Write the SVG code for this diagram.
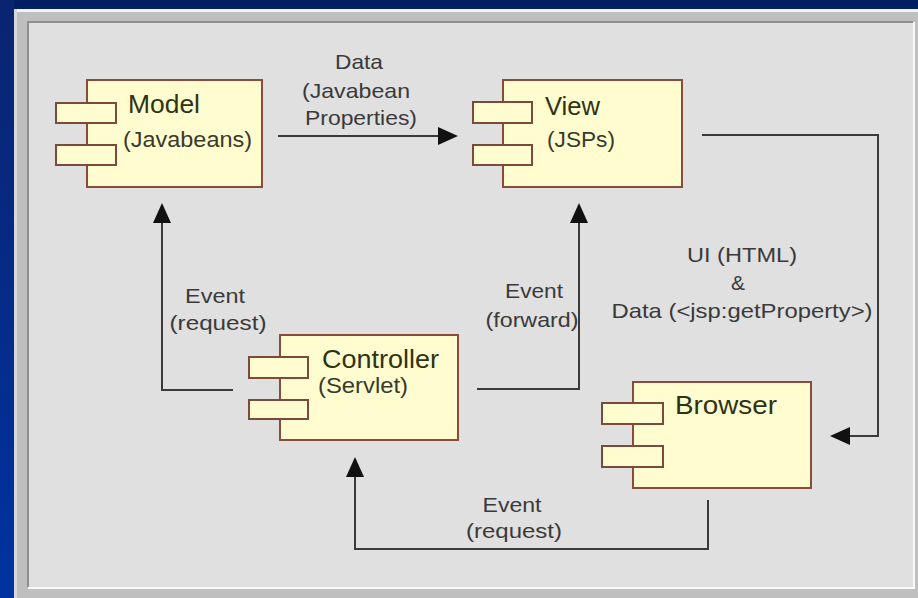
<svg xmlns="http://www.w3.org/2000/svg" width="918" height="598" viewBox="0 0 918 598">
<style>
.box{fill:#fffdd0;stroke:#8a4a3c;stroke-width:2}
.port{fill:#fffdd0;stroke:#7a4a3c;stroke-width:2}
.title{font-family:"Liberation Sans",Arial,sans-serif;fill:#2e3312}
.sub{font-family:"Liberation Sans",Arial,sans-serif;font-size:22px;fill:#3a3a2a}
.lbl{font-family:"Liberation Sans",Arial,sans-serif;font-size:21px;fill:#3a3a3a;text-anchor:middle}
.wire{fill:none;stroke:#3a3a3a;stroke-width:2}
</style>
<defs>
<linearGradient id="blue" x1="0" y1="0" x2="0" y2="1">
<stop offset="0" stop-color="#0a2470"/>
<stop offset="1" stop-color="#0033a0"/>
</linearGradient>
<marker id="arr" viewBox="0 0 20 18" refX="16" refY="9" markerWidth="20" markerHeight="18" markerUnits="userSpaceOnUse" orient="auto">
<path d="M0,0 L20,9 L0,18 Z" fill="#111"/>
</marker>
</defs>

<!-- frame -->
<rect x="0" y="0" width="918" height="598" fill="#c0c0c0"/>
<rect x="0" y="0" width="918" height="9" fill="#001e62"/>
<rect x="0" y="0" width="14" height="598" fill="url(#blue)"/>
<rect x="14" y="9" width="904" height="589" fill="#bfbfbf"/>
<line x1="14" y1="10.5" x2="918" y2="10.5" stroke="#f2f2f2" stroke-width="3"/>
<line x1="15.5" y1="9" x2="15.5" y2="598" stroke="#d8d8d8" stroke-width="3"/>
<rect x="28" y="22" width="885" height="565" fill="#e0e0e0"/>
<path d="M28,587 V22 H913" fill="none" stroke="#8e8e8e" stroke-width="2"/>
<path d="M28,588 H914 V22" fill="none" stroke="#fafafa" stroke-width="2"/>

<!-- connectors -->
<g id="connectors">
<path class="wire" d="M278,136 H454" marker-end="url(#arr)"/>
<path class="wire" d="M233,390 H162 V207" marker-end="url(#arr)"/>
<path class="wire" d="M477,389 H579 V207" marker-end="url(#arr)"/>
<path class="wire" d="M702,135 H878 V436 H834" marker-end="url(#arr)"/>
<path class="wire" d="M708,500 V549 H355 V461" marker-end="url(#arr)"/>
</g>

<!-- connector labels -->
<g id="labels">
<text class="lbl" x="359" y="69" textLength="48" lengthAdjust="spacingAndGlyphs">Data</text>
<text class="lbl" x="356" y="98" textLength="108" lengthAdjust="spacingAndGlyphs">(Javabean</text>
<text class="lbl" x="361" y="125" textLength="112" lengthAdjust="spacingAndGlyphs">Properties)</text>
<text class="lbl" x="215" y="303" textLength="60" lengthAdjust="spacingAndGlyphs">Event</text>
<text class="lbl" x="218" y="330" textLength="97" lengthAdjust="spacingAndGlyphs">(request)</text>
<text class="lbl" x="534" y="298" textLength="58" lengthAdjust="spacingAndGlyphs">Event</text>
<text class="lbl" x="532" y="327" textLength="93" lengthAdjust="spacingAndGlyphs">(forward)</text>
<text class="lbl" x="742" y="262" textLength="110" lengthAdjust="spacingAndGlyphs">UI (HTML)</text>
<text class="lbl" x="738" y="290">&amp;</text>
<text class="lbl" x="742" y="318" textLength="261" lengthAdjust="spacingAndGlyphs">Data (&lt;jsp:getProperty&gt;)</text>
<text class="lbl" x="512" y="512" textLength="59" lengthAdjust="spacingAndGlyphs">Event</text>
<text class="lbl" x="514" y="538" textLength="96" lengthAdjust="spacingAndGlyphs">(request)</text>
</g>

<!-- nodes -->
<g id="model">
<rect class="box" x="87" y="80" width="175" height="107"/>
<rect class="port" x="56" y="103" width="60" height="20"/>
<rect class="port" x="56" y="145" width="60" height="20"/>
<text class="title" x="128" y="113" font-size="26" textLength="72" lengthAdjust="spacingAndGlyphs">Model</text>
<text class="sub" x="123" y="147" textLength="129" lengthAdjust="spacingAndGlyphs">(Javabeans)</text>
</g>

<g id="view">
<rect class="box" x="503" y="80" width="179" height="107"/>
<rect class="port" x="473" y="102" width="59" height="21"/>
<rect class="port" x="473" y="145" width="59" height="20"/>
<text class="title" x="545" y="115" font-size="26" textLength="55" lengthAdjust="spacingAndGlyphs">View</text>
<text class="sub" x="547" y="147" textLength="68" lengthAdjust="spacingAndGlyphs">(JSPs)</text>
</g>

<g id="controller">
<rect class="box" x="280" y="335" width="178" height="105"/>
<rect class="port" x="249" y="357" width="59" height="21"/>
<rect class="port" x="249" y="400" width="59" height="19"/>
<text class="title" x="322" y="368" font-size="25" textLength="117" lengthAdjust="spacingAndGlyphs">Controller</text>
<text class="sub" x="318" y="393" textLength="90" lengthAdjust="spacingAndGlyphs">(Servlet)</text>
</g>

<g id="browser">
<rect class="box" x="633" y="382" width="178" height="106"/>
<rect class="port" x="602" y="403" width="61" height="21"/>
<rect class="port" x="602" y="446" width="61" height="21"/>
<text class="title" x="675" y="414" font-size="26" textLength="102" lengthAdjust="spacingAndGlyphs">Browser</text>
</g>
</svg>
